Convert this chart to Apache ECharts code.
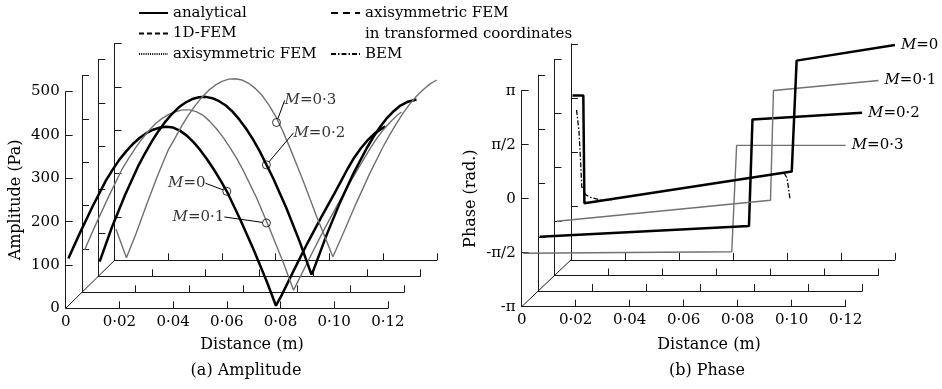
<!DOCTYPE html>
<html>
<head>
<meta charset="utf-8">
<script src="https://cdn.jsdelivr.net/npm/echarts@6/dist/echarts.min.js"></script>
<style>
  html, body { margin: 0; padding: 0; background: #fff; }
  #chart { width: 942px; height: 389px; }
</style>
</head>
<body>
<div id="chart"></div>
<script>
// amplitude (Pa) against distance (m), one layer per Mach number (front to back)
const ampM0 = [[0.001,115],[0.005,170],[0.010,235],[0.015,295],[0.0175,320],[0.020,343],[0.0225,362],[0.025,379],[0.0275,393],[0.030,404],[0.0325,412],[0.035,417],[0.0375,419],[0.040,417],[0.0425,410],[0.045,399],[0.0475,384],[0.050,366],[0.0525,345],[0.055,322],[0.0575,297],[0.060,270],[0.065,205],[0.070,135],[0.075,60],[0.0783,6],[0.080,25],[0.085,88],[0.090,150],[0.095,208],[0.100,264],[0.1025,293],[0.105,322],[0.1075,348],[0.110,370],[0.1125,388],[0.115,403],[0.1175,414],[0.119,419]];
const ampM01 = [[0.001,98],[0.005,155],[0.010,222],[0.015,285],[0.0175,310],[0.020,334],[0.0225,355],[0.025,374],[0.0275,390],[0.030,402],[0.0325,411],[0.035,417],[0.0375,421],[0.040,421],[0.0425,417],[0.045,409],[0.0475,395],[0.050,378],[0.0525,358],[0.055,335],[0.0575,310],[0.060,282],[0.065,218],[0.070,145],[0.075,68],[0.0788,5],[0.080,20],[0.085,82],[0.090,143],[0.095,200],[0.100,255],[0.1025,282],[0.105,308],[0.1075,334],[0.110,357],[0.1125,377],[0.115,394],[0.1175,409],[0.119,416]];
const ampM02 = [[0.0005,34],[0.005,112],[0.010,188],[0.015,256],[0.0175,285],[0.020,312],[0.0225,336],[0.025,357],[0.0275,375],[0.030,390],[0.0325,401],[0.035,409],[0.0375,413],[0.040,414],[0.0425,411],[0.045,404],[0.0475,394],[0.050,380],[0.0525,362],[0.055,341],[0.0575,317],[0.060,290],[0.065,228],[0.070,158],[0.075,80],[0.0794,4],[0.080,12],[0.085,95],[0.090,170],[0.095,237],[0.100,296],[0.1025,322],[0.105,345],[0.1075,365],[0.110,381],[0.1125,394],[0.115,402],[0.1185,408]];
const ampM03 = [[0.0005,72],[0.0044,6],[0.008,62],[0.012,130],[0.016,195],[0.020,255],[0.0225,282],[0.025,310],[0.0275,335],[0.030,357],[0.0325,376],[0.035,392],[0.0375,404],[0.040,413],[0.0425,418],[0.045,419],[0.0475,416],[0.050,408],[0.0525,396],[0.055,380],[0.0575,358],[0.060,332],[0.0625,300],[0.065,264],[0.070,187],[0.075,105],[0.0813,8],[0.085,60],[0.090,132],[0.095,200],[0.100,262],[0.1025,290],[0.105,316],[0.1075,340],[0.110,361],[0.1125,379],[0.115,394],[0.1175,407],[0.120,416]];

// phase (rad) against distance (m); named by the label printed at each line end
const phaseM03 = [[0.0006,-1.588],[0.0778,-1.542],[0.0796,1.55],[0.120,1.55]];      // front layer
const phaseM02 = [[0.0006,-1.559],[0.0781,-1.251],[0.0794,1.853],[0.120,2.047]];
const phaseM01 = [[0.0009,-1.562],[0.0800,-0.951],[0.0811,2.239],[0.120,2.530]];
const phaseM0 = [[0.0006,1.637],[0.0046,1.637],[0.0050,-1.493],[0.0818,-0.573],[0.0836,2.655],[0.120,3.112]]; // back layer
// BEM departures visible on the back phase layer near the jumps
const phaseBemM0a = [[0.0021,1.22],[0.0030,0.6],[0.0036,-0.3],[0.0040,-1.01],[0.0055,-1.25],[0.0075,-1.33],[0.0110,-1.40],[0.0150,-1.40]];
const phaseBemM0b = [[0.0790,-0.62],[0.0800,-0.75],[0.0806,-1.05],[0.0811,-1.35]];

// where the M labels point on the amplitude curves [layer, x, amplitude]
const ampLabelAnchors = [[0,0.060,270],[1,0.0687,160],[2,0.0626,257],[3,0.0603,318]];
const ampLabels = ['M=0', 'M=0·1', 'M=0·2', 'M=0·3'];
const phaseLabels = ['M=0·3', 'M=0·2', 'M=0·1', 'M=0'];
const phaseTickLabels = ['-π', '-π/2', '0', 'π/2', 'π'];
const methods = ['analytical', '1D-FEM', 'axisymmetric FEM', 'axisymmetric FEM in transformed coordinates', 'BEM'];

const FONT = 'DejaVu Serif';
const ampBox = { left: 65.7, top: 91.6, width: 322.2, height: 216.7, dx: 16.3, dy: -16 };
const phaseBox = { left: 521.7, top: 90.7, width: 324, height: 216, dx: 16.4, dy: -15.6 };

const chart = echarts.init(document.getElementById('chart'));

const grids = [], xAxes = [], yAxes = [];
function addLayers(box, yCfg) {
  for (let k = 0; k < 4; k++) {
    grids.push({
      left: box.left + k * box.dx, top: box.top + k * box.dy,
      width: box.width, height: box.height
    });
    const gi = grids.length - 1;
    const lineStyle = { color: '#1a1a1a', width: 1 };
    xAxes.push({
      type: 'value', gridIndex: gi, min: 0, max: 0.12, interval: 0.02,
      axisLine: { onZero: false, lineStyle },
      axisTick: { inside: true, length: 7, lineStyle },
      splitLine: { show: false },
      axisLabel: {
        show: k === 0, margin: 6, color: '#000', fontFamily: FONT, fontSize: 15,
        formatter: v => v === 0 ? '0' : v.toFixed(2).replace('.', '·')
      }
    });
    yAxes.push(Object.assign({
      type: 'value', gridIndex: gi,
      axisLine: { onZero: false, lineStyle },
      axisTick: { inside: true, length: 7, lineStyle },
      splitLine: { show: false }
    }, yCfg(k)));
  }
}

addLayers(ampBox, k => ({
  min: 0, max: 500, interval: 100,
  name: k === 0 ? 'Amplitude (Pa)' : '',
  nameLocation: 'middle', nameGap: 42,
  nameTextStyle: { color: '#000', fontFamily: FONT, fontSize: 16 },
  axisLabel: { show: k === 0, margin: 6, color: '#000', fontFamily: FONT, fontSize: 15 }
}));
addLayers(phaseBox, k => ({
  min: -Math.PI, max: Math.PI, interval: Math.PI / 2,
  name: k === 0 ? 'Phase (rad.)' : '',
  nameLocation: 'middle', nameGap: 43,
  nameTextStyle: { color: '#000', fontFamily: FONT, fontSize: 16 },
  axisLabel: {
    show: k === 0, margin: 6, color: '#000', fontFamily: FONT, fontSize: 15,
    formatter: v => phaseTickLabels[Math.round(v / (Math.PI / 2)) + 2]
  }
}));

const BLACK = { color: '#000', width: 2.5 };
const GREY = { color: '#707070', width: 1.4 };
const ampStyle = [BLACK, GREY, BLACK, GREY];     // M=0, 0.1, 0.2, 0.3
const phaseStyle = [GREY, BLACK, GREY, BLACK];   // M=0.3, 0.2, 0.1, 0

const methodStyles = {
  'analytical': { width: 1.5 },
  '1D-FEM': { type: [5, 3], width: 1.3 },
  'axisymmetric FEM': { type: [1, 1.2], width: 1 },
  'axisymmetric FEM in transformed coordinates': { type: [7, 5], width: 1.3 },
  'BEM': { type: [5, 2, 1.5, 2], width: 1.3 }
};

// legend keys first (the numerical results overlay the analytical curves)
const series = [];
['analytical', '1D-FEM', 'axisymmetric FEM', 'axisymmetric FEM in transformed coordinates'].forEach(n => {
  series.push({
    type: 'line', name: n, xAxisIndex: 0, yAxisIndex: 0, data: [], symbol: 'none',
    color: '#000', lineStyle: Object.assign({ color: '#000' }, methodStyles[n])
  });
});

[ampM0, ampM01, ampM02, ampM03].forEach((d, k) => {
  series.push({
    type: 'line', name: 'analytical', xAxisIndex: k, yAxisIndex: k,
    data: d, symbol: 'none', color: ampStyle[k].color, lineStyle: ampStyle[k], silent: true
  });
});
[phaseM03, phaseM02, phaseM01, phaseM0].forEach((d, k) => {
  series.push({
    type: 'line', name: 'analytical', xAxisIndex: 4 + k, yAxisIndex: 4 + k,
    data: d, symbol: 'none', color: phaseStyle[k].color, lineStyle: phaseStyle[k], silent: true,
    endLabel: {
      show: true, distance: 6, color: '#000', fontFamily: FONT, fontSize: 15,
      formatter: '{m|M}' + phaseLabels[k].slice(1),
      rich: { m: { fontStyle: 'italic', fontFamily: FONT, fontSize: 15, color: '#000' } }
    }
  });
});
[phaseBemM0a, phaseBemM0b].forEach(d => {
  series.push({
    type: 'line', name: 'BEM', xAxisIndex: 7, yAxisIndex: 7, data: d, symbol: 'none',
    color: '#000', lineStyle: Object.assign({ color: '#000' }, methodStyles.BEM), silent: true
  });
});

// M labels with leader lines on the amplitude panel
const labelShift = [[-40, -8], [-68, -6], [53, -32], [34, -22]];
ampLabelAnchors.forEach((a, i) => {
  series.push({
    type: 'scatter', xAxisIndex: a[0], yAxisIndex: a[0], z: 5, silent: true,
    data: [[a[1], a[2]]], symbol: 'circle', symbolSize: 8,
    itemStyle: { color: 'rgba(0,0,0,0)', borderColor: '#000', borderWidth: 1 },
    label: {
      show: true, position: 'inside', color: '#000', fontFamily: FONT, fontSize: 15,
      formatter: '{m|M}' + ampLabels[i].slice(1),
      rich: { m: { fontStyle: 'italic', fontFamily: FONT, fontSize: 15, color: '#000' } }
    },
    labelLayout: { dx: labelShift[i][0], dy: labelShift[i][1] },
    labelLine: { show: true, lineStyle: { color: '#000', width: 1 } }
  });
});

const legendText = { color: '#000', fontFamily: FONT, fontSize: 15, lineHeight: 16 };
function origin(box, k) {
  return [box.left + k * box.dx, box.top + box.height + k * box.dy];
}
const graphic = [];
[ampBox, phaseBox].forEach(box => {
  const a = origin(box, 0), b = origin(box, 3);
  graphic.push({ type: 'line', shape: { x1: a[0], y1: a[1], x2: b[0], y2: b[1] }, style: { stroke: '#1a1a1a', lineWidth: 1 } });
});
const caption = (text, x, y) => ({
  type: 'text', x, y,
  style: { text, fill: '#000', font: '16px "' + FONT + '"', textAlign: 'center', textVerticalAlign: 'middle' }
});
graphic.push(caption('Distance (m)', 252, 345));
graphic.push(caption('(a) Amplitude', 246, 371));
graphic.push(caption('Distance (m)', 709, 345));
graphic.push(caption('(b) Phase', 707, 371));
graphic.push({
  type: 'text', x: 365, y: 34,
  style: { text: 'in transformed coordinates', fill: '#000', font: '15px "' + FONT + '"', textVerticalAlign: 'middle' }
});

const legendCommon = {
  orient: 'vertical', align: 'left', padding: 0, itemWidth: 29, itemHeight: 14,
  textStyle: legendText, selectedMode: false, itemStyle: { opacity: 0 }
};
chart.setOption({
  animation: false,
  grid: grids,
  xAxis: xAxes,
  yAxis: yAxes,
  legend: [
    Object.assign({}, legendCommon, {
      left: 138, top: 5, itemGap: 4.5,
      data: ['analytical', '1D-FEM', 'axisymmetric FEM']
    }),
    Object.assign({}, legendCommon, {
      left: 330, top: 5, itemGap: 25,
      data: ['axisymmetric FEM in transformed coordinates', 'BEM'],
      formatter: n => n === methods[3] ? 'axisymmetric FEM' : n
    })
  ],
  series,
  graphic
});
</script>
</body>
</html>
